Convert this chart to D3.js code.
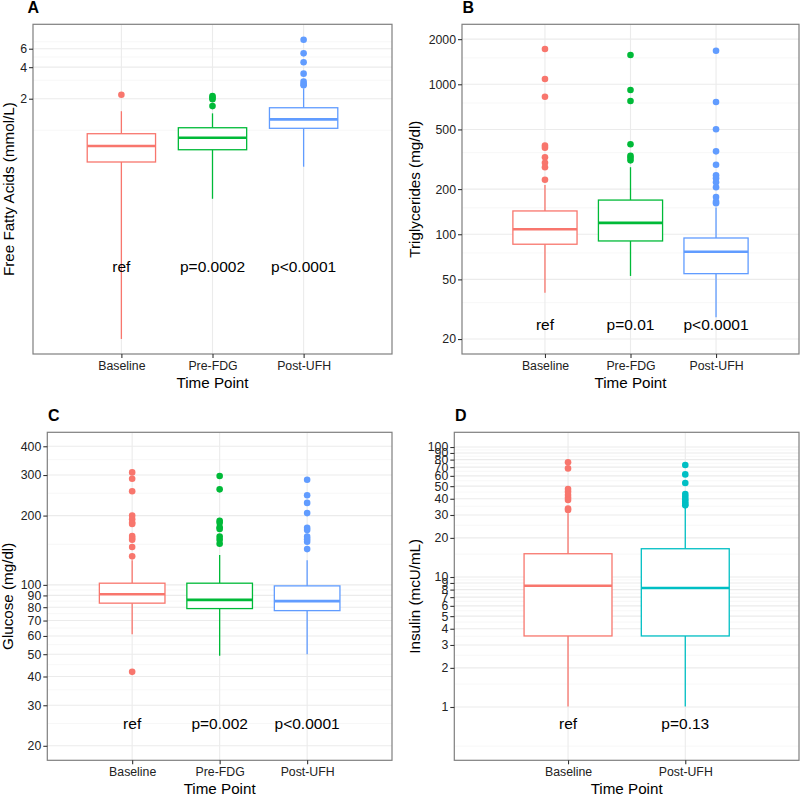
<!DOCTYPE html>
<html>
<head>
<meta charset="utf-8">
<script src="https://cdn.jsdelivr.net/npm/d3@7"></script>
<style>
  html, body { margin: 0; padding: 0; background: #fff; }
  svg { display: block; font-family: "Liberation Sans", Arial, Helvetica, sans-serif; }
</style>
</head>
<body>
<svg id="chart" width="800" height="796"></svg>
<script>
// ---------- categories ----------
const catsABC = ["Baseline", "Pre-FDG", "Post-UFH"];
const catsD = ["Baseline", "Post-UFH"];
const colorsABC = ["#F8766D", "#00BA38", "#619CFF"];
const colorsD = ["#F8766D", "#00BFC4"];

// ---------- Panel A: Free Fatty Acids ----------
const ffaLow = [0.0102, 0.222, 0.449];
const ffaQ1 = [0.498, 0.652, 1.044];
const ffaMed = [0.708, 0.849, 1.27];
const ffaQ3 = [0.927, 1.057, 1.64];
const ffaHigh = [1.52, 1.45, 2.51];
const ffaOut = [[2.18], [2.12, 2.05, 1.98, 1.70], [7.31, 5.42, 4.45, 3.47, 2.91, 2.76, 2.69]];
const ffaLabels = ["ref", "p=0.0002", "p<0.0001"];
const ffaTicks = [2, 4, 6];
const ffaMinor = [1, 3, 5, 7];

// ---------- Panel B: Triglycerides ----------
const tgLow = [40.8, 52.7, 28];
const tgQ1 = [85.8, 90.2, 54.6];
const tgMed = [108, 119, 76.5];
const tgQ3 = [143, 169, 94.4];
const tgHigh = [213, 280, 151];
const tgOut = [
  [1718, 1084, 826, 390, 378, 326, 300, 280, 231],
  [1568, 916, 774, 398, 334, 324, 311],
  [1675, 762, 501, 357, 291, 247, 236, 222, 206, 177, 165, 161]
];
const tgLabels = ["ref", "p=0.01", "p<0.0001"];
const tgTicks = [20, 50, 100, 200, 500, 1000, 2000];
const tgMinor = [35, 75, 150, 350, 750, 1500];

// ---------- Panel C: Glucose ----------
const gluLow = [61.1, 49.2, 50];
const gluQ1 = [83.3, 78.9, 77.3];
const gluMed = [91.1, 86.1, 85];
const gluQ3 = [101.7, 101.7, 99];
const gluHigh = [128, 135, 128];
const gluOut = [
  [308, 289, 255, 200, 193, 186, 184, 163, 160, 157, 146, 133, 41.9],
  [297, 260, 190, 186, 178, 175, 162, 157, 151],
  [286, 245, 227, 205, 177, 173, 162, 158, 154, 143]
];
const gluLabels = ["ref", "p=0.002", "p<0.0001"];
const gluTicks = [20, 30, 40, 50, 60, 70, 80, 90, 100, 200, 300, 400];
const gluMinor = [25, 35, 45, 55, 65, 75, 85, 95, 150, 250, 350];

// ---------- Panel D: Insulin ----------
const insLow = [1.01, 1.01];
const insQ1 = [3.52, 3.52];
const insMed = [8.57, 8.23];
const insQ3 = [15.1, 16.5];
const insHigh = [30.9, 34.4];
const insOut = [
  [76.3, 68.5, 47.5, 45.3, 42.7, 40.7, 39.1, 33.7, 32.8],
  [72.7, 61.6, 52.9, 43.5, 41.5, 39.6, 38, 36.5, 35.6]
];
const insLabels = ["ref", "p=0.13"];
const insTicks = [1, 2, 3, 4, 5, 6, 7, 8, 9, 10, 20, 30, 40, 50, 60, 70, 80, 90, 100];
const insMinor = [0.5, 1.5, 2.5, 3.5, 4.5, 5.5, 6.5, 7.5, 8.5, 9.5, 15, 25, 35, 45, 55, 65, 75, 85, 95];

// ---------- drawing ----------
const svg = d3.select("#chart");

function drawPanel(p) {
  const g = svg.append("g");
  const x = d3.scalePoint().domain(p.cats).range([p.x0, p.x1]).padding(0.97);
  const y = d3.scaleLog().domain(p.domain).range([p.y1, p.y0]);
  const bw = x.step() * 0.75;

  // minor grid
  g.selectAll(".minor").data(p.minor.filter(v => y(v) >= p.y0 && y(v) <= p.y1)).join("line")
    .attr("x1", p.x0).attr("x2", p.x1)
    .attr("y1", d => y(d)).attr("y2", d => y(d))
    .attr("stroke", "#f2f2f2").attr("stroke-width", 0.6);
  // major grid
  g.selectAll(".major").data(p.ticks).join("line")
    .attr("x1", p.x0).attr("x2", p.x1)
    .attr("y1", d => y(d)).attr("y2", d => y(d))
    .attr("stroke", "#ebebeb").attr("stroke-width", 1.1);
  g.selectAll(".vgrid").data(p.cats).join("line")
    .attr("x1", d => x(d)).attr("x2", d => x(d))
    .attr("y1", p.y0).attr("y2", p.y1)
    .attr("stroke", "#ebebeb").attr("stroke-width", 1.1);

  // boxes
  p.cats.forEach((c, i) => {
    const cx = x(c), col = p.colors[i];
    g.append("line").attr("x1", cx).attr("x2", cx)
      .attr("y1", y(p.high[i])).attr("y2", y(p.q3[i]))
      .attr("stroke", col).attr("stroke-width", 1.3);
    g.append("line").attr("x1", cx).attr("x2", cx)
      .attr("y1", y(p.q1[i])).attr("y2", y(p.low[i]))
      .attr("stroke", col).attr("stroke-width", 1.3);
    g.append("rect").attr("x", cx - bw / 2).attr("width", bw)
      .attr("y", y(p.q3[i])).attr("height", y(p.q1[i]) - y(p.q3[i]))
      .attr("fill", "#fff").attr("stroke", col).attr("stroke-width", 1.3);
    g.append("line").attr("x1", cx - bw / 2).attr("x2", cx + bw / 2)
      .attr("y1", y(p.med[i])).attr("y2", y(p.med[i]))
      .attr("stroke", col).attr("stroke-width", 2.6);
    g.selectAll(null).data(p.out[i]).join("circle")
      .attr("cx", cx).attr("cy", d => y(d)).attr("r", 3.3)
      .attr("fill", col);
    g.append("text").attr("x", cx).attr("y", y(p.labelY))
      .attr("dy", "0.35em").attr("text-anchor", "middle")
      .attr("font-size", 15.5).attr("fill", "#000").text(p.labels[i]);
  });

  // border
  g.append("rect").attr("x", p.x0).attr("y", p.y0)
    .attr("width", p.x1 - p.x0).attr("height", p.y1 - p.y0)
    .attr("fill", "none").attr("stroke", "#7f7f7f").attr("stroke-width", 1.2);

  // y axis
  const ya = g.append("g").attr("transform", `translate(${p.x0},0)`)
    .call(d3.axisLeft(y).tickValues(p.ticks).tickFormat(d3.format("d")).tickSize(4).tickPadding(2));
  ya.select(".domain").remove();
  ya.selectAll(".tick line").attr("stroke", "#333").attr("stroke-width", 1.1);
  ya.selectAll(".tick text").attr("font-size", 12.3).attr("fill", "#222")
    .attr("font-family", "Liberation Sans, Arial, sans-serif");

  // x axis
  const xa = g.append("g").attr("transform", `translate(0,${p.y1})`)
    .call(d3.axisBottom(x).tickSize(4).tickPadding(3));
  xa.select(".domain").remove();
  xa.selectAll(".tick line").attr("stroke", "#333").attr("stroke-width", 1.1);
  xa.selectAll(".tick text").attr("font-size", 12.3).attr("fill", "#222")
    .attr("font-family", "Liberation Sans, Arial, sans-serif");

  // titles
  g.append("text").attr("x", (p.x0 + p.x1) / 2).attr("y", p.y1 + 33.5)
    .attr("text-anchor", "middle").attr("font-size", 15.2).attr("fill", "#000")
    .text("Time Point");
  g.append("text")
    .attr("transform", `translate(${p.ytx},${(p.y0 + p.y1) / 2}) rotate(-90)`)
    .attr("text-anchor", "middle").attr("font-size", 15.2).attr("fill", "#000")
    .text(p.ytitle);
  g.append("text").attr("x", p.tagX).attr("y", p.tagY)
    .attr("font-size", 16).attr("font-weight", "bold").attr("fill", "#000")
    .text(p.tag);
}

drawPanel({
  tag: "A", tagX: 27.5, tagY: 12.8,
  cats: catsABC, colors: colorsABC,
  x0: 33, x1: 392, y0: 24.3, y1: 354, domain: [0.00733, 10.26],
  low: ffaLow, q1: ffaQ1, med: ffaMed, q3: ffaQ3, high: ffaHigh, out: ffaOut,
  labels: ffaLabels, labelY: 0.05, ticks: ffaTicks, minor: ffaMinor,
  ytitle: "Free Fatty Acids (mmol/L)", ytx: 13.5
});
drawPanel({
  tag: "B", tagX: 462.5, tagY: 13.3,
  cats: catsABC, colors: colorsABC,
  x0: 462, x1: 799, y0: 24.3, y1: 354, domain: [15.9, 2512],
  low: tgLow, q1: tgQ1, med: tgMed, q3: tgQ3, high: tgHigh, out: tgOut,
  labels: tgLabels, labelY: 25, ticks: tgTicks, minor: tgMinor,
  ytitle: "Triglycerides (mg/dl)", ytx: 420
});
drawPanel({
  tag: "C", tagX: 48, tagY: 420.7,
  cats: catsABC, colors: colorsABC,
  x0: 47.3, x1: 392, y0: 432.3, y1: 760.3, domain: [17.3, 460],
  low: gluLow, q1: gluQ1, med: gluMed, q3: gluQ3, high: gluHigh, out: gluOut,
  labels: gluLabels, labelY: 25, ticks: gluTicks, minor: gluMinor,
  ytitle: "Glucose (mg/dl)", ytx: 13
});
drawPanel({
  tag: "D", tagX: 455, tagY: 420.7,
  cats: catsD, colors: colorsD,
  x0: 454.3, x1: 799, y0: 432.3, y1: 760.3, domain: [0.389, 129.8],
  low: insLow, q1: insQ1, med: insMed, q3: insQ3, high: insHigh, out: insOut,
  labels: insLabels, labelY: 0.75, ticks: insTicks, minor: insMinor,
  ytitle: "Insulin (mcU/mL)", ytx: 420
});
</script>
</body>
</html>
